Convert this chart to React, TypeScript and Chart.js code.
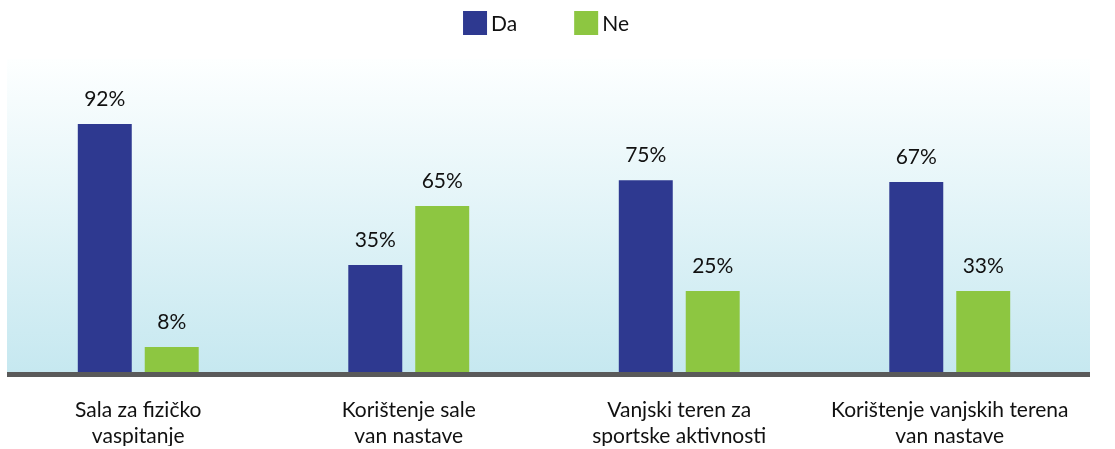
import { useEffect, useRef } from "react";
import { Chart, registerables } from "chart.js";

Chart.register(...registerables);

const categories: string[][] = [
  ["Sala za fizičko", "vaspitanje"],
  ["Korištenje sale", "van nastave"],
  ["Vanjski teren za", "sportske aktivnosti"],
  ["Korištenje vanjskih terena", "van nastave"],
];
const seriesNames = ["Da", "Ne"];
const daValues = [79.2, 34.2, 61.3, 60.7];
const neValues = [8.0, 53.0, 25.9, 25.9];
const daLabels = ["92%", "35%", "75%", "67%"];
const neLabels = ["8%", "65%", "25%", "33%"];

const BLUE = "#2e3990";
const GREEN = "#8dc641";
const FONT = "Lato";
const FONT_SIZE = 21;

const backgroundPlugin = {
  id: "bgGradient",
  beforeDatasetsDraw(chart: any) {
    const { ctx, chartArea } = chart;
    const { left, right, top, bottom } = chartArea;
    ctx.save();
    const g = ctx.createLinearGradient(0, top, 0, bottom);
    g.addColorStop(0, "#fdffff");
    g.addColorStop(1, "#c6e8f0");
    ctx.fillStyle = g;
    ctx.fillRect(left + 4, top, right - left + 1, bottom - top);
    ctx.fillStyle = "#5a5a5a";
    ctx.fillRect(left + 4, bottom, right - left + 1, 5);
    ctx.restore();
  },
};

const valueLabelPlugin = {
  id: "valueLabels",
  afterDatasetsDraw(chart: any) {
    const { ctx } = chart;
    const texts = [daLabels, neLabels];
    ctx.save();
    ctx.font = `${FONT_SIZE}px ${FONT}`;
    ctx.fillStyle = "#111111";
    ctx.textAlign = "center";
    ctx.textBaseline = "alphabetic";
    chart.data.datasets.forEach((_: any, di: number) => {
      const meta = chart.getDatasetMeta(di);
      meta.data.forEach((bar: any, i: number) => {
        ctx.fillText(texts[di][i], bar.x, bar.y - 18);
      });
    });
    ctx.restore();
  },
};

const legendPlugin = {
  id: "customLegend",
  afterDraw(chart: any) {
    const { ctx, chartArea } = chart;
    const colors = [BLUE, GREEN];
    const box = 24;
    const textGap = 4;
    const itemGap = 57;
    ctx.save();
    ctx.font = `${FONT_SIZE}px ${FONT}`;
    const widths = seriesNames.map((n) => box + textGap + ctx.measureText(n).width);
    const total = widths.reduce((a, b) => a + b, 0) + itemGap * (seriesNames.length - 1);
    let x = (chartArea.left + chartArea.right) / 2 - total / 2 + 2;
    seriesNames.forEach((name, i) => {
      ctx.fillStyle = colors[i];
      ctx.fillRect(x, 11, box, box);
      ctx.fillStyle = "#111111";
      ctx.textAlign = "left";
      ctx.textBaseline = "alphabetic";
      ctx.fillText(name, x + box + textGap, 31);
      x += widths[i] + itemGap;
    });
    ctx.restore();
  },
};

export default function App() {
  const canvasRef = useRef<HTMLCanvasElement | null>(null);

  useEffect(() => {
    let chart: Chart | null = null;
    let cancelled = false;
    const make = () => {
      if (cancelled || !canvasRef.current) return;
      chart = new Chart(canvasRef.current, {
        type: "bar",
        data: {
          labels: categories,
          datasets: [
            {
              label: seriesNames[0],
              data: daValues,
              backgroundColor: BLUE,
              barPercentage: 0.806,
              categoryPercentage: 0.495,
            },
            {
              label: seriesNames[1],
              data: neValues,
              backgroundColor: GREEN,
              barPercentage: 0.806,
              categoryPercentage: 0.495,
            },
          ],
        },
        options: {
          animation: false,
          responsive: true,
          maintainAspectRatio: false,
          layout: { padding: { top: 59, left: 3, right: 30, bottom: 3 } },
          plugins: {
            legend: { display: false },
            tooltip: { enabled: false },
          },
          scales: {
            x: {
              grid: { display: false, drawTicks: false },
              border: { display: false },
              afterFit(scale: any) {
                scale.height = 74;
              },
              ticks: {
                color: "#111111",
                font: { family: FONT, size: FONT_SIZE, lineHeight: 1.25 },
                padding: 25,
                maxRotation: 0,
                autoSkip: false,
              },
            },
            y: { display: false, min: 0, max: 100 },
          },
        },
        plugins: [backgroundPlugin, valueLabelPlugin, legendPlugin],
      });
    };
    const fonts: any = (document as any).fonts;
    if (fonts && fonts.load) {
      fonts.load(`${FONT_SIZE}px ${FONT}`).then(make, make);
    } else {
      make();
    }
    return () => {
      cancelled = true;
      if (chart) chart.destroy();
    };
  }, []);

  return (
    <div style={{ position: "fixed", left: 0, top: 0, width: 1115, height: 449, background: "#ffffff" }}>
      <canvas ref={canvasRef} />
    </div>
  );
}
